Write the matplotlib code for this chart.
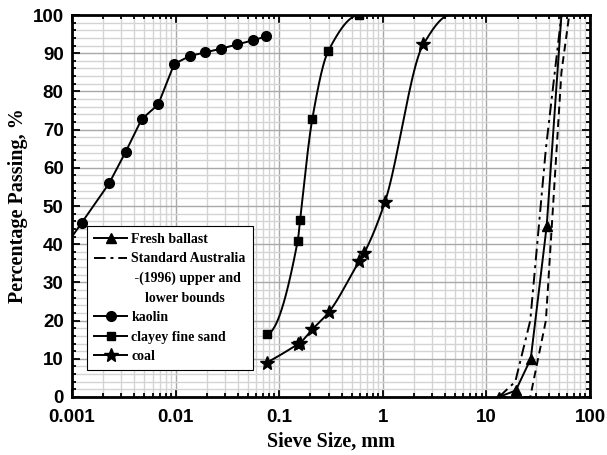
import numpy as np
import matplotlib
matplotlib.use('Agg')
import matplotlib.pyplot as plt
from matplotlib.ticker import LogLocator, MultipleLocator, FixedLocator, FixedFormatter

# (sieve size in mm, percentage passing)
kaolin_x = [0.0009, 0.00124, 0.00228, 0.0033, 0.0047, 0.0068, 0.0097,
            0.0138, 0.0192, 0.0276, 0.0394, 0.0562, 0.0747]
kaolin_y = [40.2, 45.6, 55.9, 64.2, 72.7, 76.6, 87.2,
            89.3, 90.2, 91.2, 92.3, 93.4, 94.4]

clay_x = [0.0757, 0.151, 0.159, 0.209, 0.298, 0.593]
clay_y = [16.5, 40.9, 46.3, 72.9, 90.6, 100]

coal_x = [0.0757, 0.151, 0.159, 0.209, 0.303, 0.593, 0.664, 1.05, 2.46, 4.5]
coal_y = [9.0, 13.8, 14.2, 17.7, 22.3, 35.6, 37.8, 51.1, 92.3, 100]

ballast_x = [13.2, 19.2, 26.8, 38.2, 53.0]
ballast_y = [0, 1.7, 10.0, 44.8, 100]

upper_x = [13.2, 19.0, 26.5, 37.5, 53.0]
upper_y = [0, 4, 20, 65, 100]
lower_x = [13.2, 19.0, 26.5, 37.5, 53.0, 63.0]
lower_y = [0, 0, 0, 20, 85, 100]

x_ticks = [0.001, 0.01, 0.1, 1, 10, 100]
x_labels = ['0.001', '0.01', '0.1', '1', '10', '100']


def pchip(x, y, xi):
    # monotone cubic through the points, in log10(x) space
    x = np.log10(np.asarray(x, float))
    y = np.asarray(y, float)
    xi = np.log10(xi)
    h = np.diff(x)
    d = np.diff(y) / h
    n = len(x)
    m = np.zeros(n)
    for k in range(1, n - 1):
        if d[k - 1] * d[k] > 0:
            w1 = 2 * h[k] + h[k - 1]
            w2 = h[k] + 2 * h[k - 1]
            m[k] = (w1 + w2) / (w1 / d[k - 1] + w2 / d[k])
    m[0] = ((2 * h[0] + h[1]) * d[0] - h[0] * d[1]) / (h[0] + h[1])
    if np.sign(m[0]) != np.sign(d[0]):
        m[0] = 0
    m[-1] = ((2 * h[-1] + h[-2]) * d[-1] - h[-1] * d[-2]) / (h[-1] + h[-2])
    if np.sign(m[-1]) != np.sign(d[-1]):
        m[-1] = 0
    idx = np.clip(np.searchsorted(x, xi) - 1, 0, n - 2)
    t = (xi - x[idx]) / h[idx]
    h00 = 2 * t**3 - 3 * t**2 + 1
    h10 = t**3 - 2 * t**2 + t
    h01 = -2 * t**3 + 3 * t**2
    h11 = t**3 - t**2
    return (h00 * y[idx] + h10 * h[idx] * m[idx] + h01 * y[idx + 1]
            + h11 * h[idx] * m[idx + 1])


sans = ['Liberation Sans', 'DejaVu Sans']
serif = ['Liberation Serif', 'DejaVu Serif']

fig = plt.figure(figsize=(6.07, 4.55), dpi=100)
ax = fig.add_axes([0.1186, 0.1275, 0.8534, 0.8395])

lw = 1.4
ax.plot(ballast_x, ballast_y, color='k', lw=lw, marker='^', ms=7,
        markevery=list(range(len(ballast_x) - 1)), label='Fresh ballast', zorder=4)
ax.plot(upper_x, upper_y, color='k', lw=lw, dashes=[6, 2.5, 1.5, 2.5],
        label='Standard Australia', zorder=3)
ax.plot(lower_x, lower_y, color='k', lw=lw, dashes=[4, 2.5], zorder=3)
# continuation lines of the legend label, no handle
ax.plot([], [], ls='none', label=' -(1996) upper and')
ax.plot([], [], ls='none', label='    lower bounds')
ax.plot(kaolin_x, kaolin_y, color='k', lw=lw, marker='o', ms=7,
        markevery=list(range(1, len(kaolin_x))), label='kaolin', zorder=4)

xs = np.logspace(np.log10(clay_x[0]), np.log10(clay_x[-1]), 300)
ax.plot(xs, pchip(clay_x, clay_y, xs), color='k', lw=lw, zorder=4)
ax.plot(clay_x, clay_y, ls='none', color='k', marker='s', ms=6, zorder=5)
ax.plot([], [], color='k', lw=lw, marker='s', ms=6, label='clayey fine sand')

xs = np.logspace(np.log10(coal_x[0]), np.log10(coal_x[-1]), 300)
ax.plot(xs, pchip(coal_x, coal_y, xs), color='k', lw=lw, zorder=4)
ax.plot(coal_x[:-1], coal_y[:-1], ls='none', color='k', marker='*', ms=10, zorder=5)
ax.plot([], [], color='k', lw=lw, marker='*', ms=10, label='coal')

ax.set_xscale('log')
ax.set_xlim(0.001, 100)
ax.set_ylim(0, 100)
ax.xaxis.set_major_locator(FixedLocator(x_ticks))
ax.xaxis.set_major_formatter(FixedFormatter(x_labels))
ax.xaxis.set_minor_locator(LogLocator(base=10, subs=np.arange(2, 10), numticks=20))
ax.yaxis.set_major_locator(MultipleLocator(10))
ax.yaxis.set_minor_locator(MultipleLocator(2))

ax.grid(which='major', color='#a8a8a8', lw=1.0, zorder=0)
ax.grid(which='minor', color='#d4d4d4', lw=1.0, zorder=0)
ax.set_axisbelow(True)

ax.tick_params(which='both', direction='in', top=True, right=True, width=1.3)
ax.tick_params(which='major', length=6)
ax.tick_params(axis='x', which='major', pad=9)
ax.tick_params(axis='y', which='major', pad=6)
ax.tick_params(which='minor', length=3)
for s in ax.spines.values():
    s.set_linewidth(2)

for lab in ax.get_xticklabels() + ax.get_yticklabels():
    lab.set_fontfamily(sans)
    lab.set_fontweight('bold')
    lab.set_fontsize(13.5)

ax.set_xlabel('Sieve Size, mm', family=serif, fontweight='bold', fontsize=14.5, labelpad=4)
ax.set_ylabel('Percentage Passing, %', family=serif, fontweight='bold', fontsize=14.5, labelpad=3)

leg = ax.legend(loc='lower left', bbox_to_anchor=(0.029, 0.071), borderaxespad=0,
                prop={'family': serif, 'weight': 'bold', 'size': 10},
                fancybox=False, framealpha=1, edgecolor='k', handlelength=2.4,
                handletextpad=0.3, borderpad=0.5, labelspacing=0.46)
leg.get_frame().set_linewidth(0.8)

fig.savefig('out.png', dpi=100)
